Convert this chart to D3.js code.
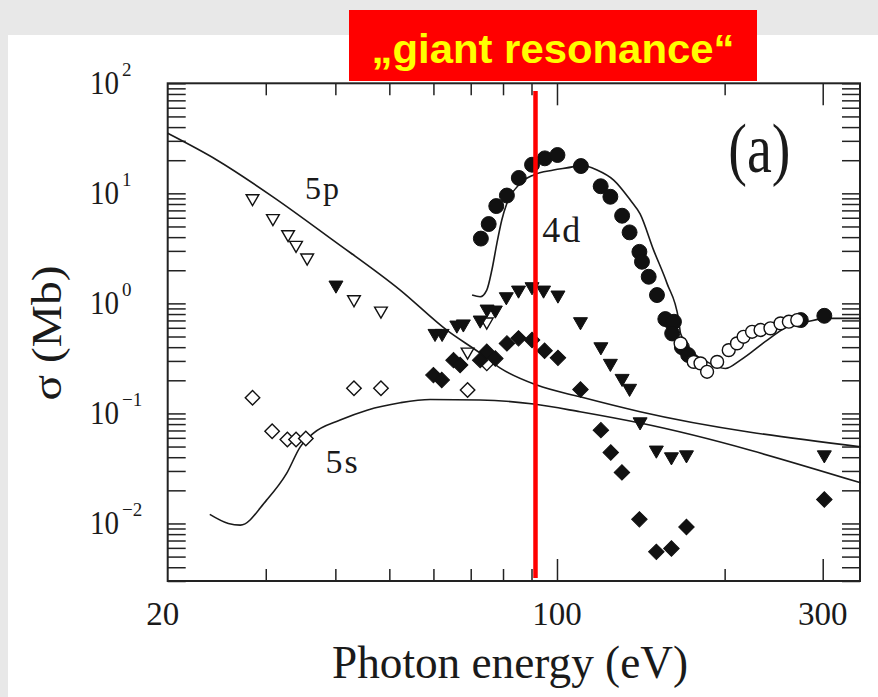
<!DOCTYPE html>
<html>
<head>
<meta charset="utf-8">
<script src="https://cdn.jsdelivr.net/npm/d3@7"></script>
<style>
    body { margin: 0; background: #e8e8e8; }
    text { font-family: "Liberation Serif", "DejaVu Serif", serif; fill: #1a1a1a; }
</style>
</head>
<body>
<div id="chart"></div>
<script>
// theory curves (photon energy in eV, cross section in Mb)
var curve5pE = [20, 24.5, 30.9, 39.6, 52.3, 63.4, 72.8, 79.1, 92, 110, 141, 351];
var curve5pS = [35.1, 20.1, 9.3, 3.76, 1.32, 0.571, 0.353, 0.258, 0.181, 0.1415, 0.1035, 0.0497];

var curve5sE = [23.8, 25.7, 27.0, 30.1, 32.7, 34.6, 36.5, 40.8, 45.6, 52.3, 59.2, 72.8, 90.8, 110, 141, 351];
var curve5sS = [0.0121, 0.0100, 0.00966, 0.0163, 0.0285, 0.0497, 0.0658, 0.0870, 0.107, 0.125, 0.134, 0.1326, 0.1216, 0.1035, 0.0817, 0.0234];

var curve4dE = [70.4, 72.8, 74.8, 76.4, 78.0, 79.6, 81.3, 85.9, 90.8, 98.6, 107.1, 110, 118, 126.4, 135.4, 141, 149.1, 157.6, 165.4, 166.7, 176, 186, 200.6, 213.5, 238.6, 259, 281.3, 305.7, 351];
var curve4dS = [1.19, 1.148, 1.32, 2.01, 3.51, 5.72, 8.11, 12.3, 14.7, 16.3, 17.5, 18.1, 16.3, 13.2, 8.7, 6.5, 3.05, 1.52, 0.705, 0.533, 0.351, 0.294, 0.256, 0.305, 0.464, 0.613, 0.681, 0.731, 0.731];

// measured points
var openTriE = [28.4, 30.9, 32.9, 34.0, 35.6, 43.2, 48.3, 69.1, 74.8];
var openTriS = [9.0, 5.93, 4.24, 3.39, 2.6, 1.087, 0.857, 0.363, 0.681];

var filledTriE = [40.1, 60.4, 62.2, 66.1, 67.9, 72.8, 74.9, 77.5, 81.1, 85.3, 90.2, 94.6, 100.4, 110.2, 119.9, 124.7, 130.9, 135, 141, 150.8, 160.5, 170.8, 302];
var filledTriS = [1.466, 0.533, 0.533, 0.635, 0.65, 0.705, 0.887, 0.869, 1.148, 1.32, 1.416, 1.32, 1.19, 0.681, 0.403, 0.285, 0.208, 0.169, 0.0838, 0.0464, 0.0403, 0.042, 0.042];

var filledDiaE = [60.0, 62.1, 65.2, 67.0, 72.8, 74.8, 77.5, 81.3, 85.3, 90.2, 95.0, 100.4, 110.2, 119.9, 124.9, 130.8, 140.6, 150.8, 160.5, 170.8, 302];
var filledDiaS = [0.223, 0.201, 0.305, 0.275, 0.305, 0.363, 0.316, 0.433, 0.481, 0.464, 0.371, 0.320, 0.165, 0.0705, 0.0442, 0.0291, 0.0109, 0.00552, 0.00593, 0.0093, 0.0165];

var openDiaE = [28.4, 30.8, 32.8, 34.0, 35.4, 43.2, 48.3, 69.1, 74.8];
var openDiaS = [0.1387, 0.069, 0.058, 0.058, 0.0593, 0.169, 0.169, 0.163, 0.285];

var filledCircE = [73.0, 75.4, 77.8, 81.3, 85.4, 90.2, 95.1, 100.2, 110.4, 119.8, 124.7, 130.9, 135, 140.6, 142.1, 146.1, 151.2, 156.5, 161, 162.2, 161, 167.6, 172, 274, 302];
var filledCircS = [3.88, 5.26, 7.66, 9.55, 13.8, 18.2, 20.8, 22.3, 17.7, 11.6, 9.31, 6.26, 4.42, 2.94, 2.39, 1.746, 1.19, 0.72, 0.658, 0.681, 0.533, 0.40, 0.34, 0.705, 0.771];

var openCircE = [166.7, 176, 181, 186, 193.9, 203.4, 210.5, 216.3, 224, 232, 241.7, 252, 260.8, 270];
var openCircS = [0.433, 0.294, 0.285, 0.239, 0.294, 0.376, 0.433, 0.497, 0.552, 0.573, 0.593, 0.658, 0.681, 0.705];

// axis ticks and labels
var xMajorTicks = [100, 300];
var xTickLabels = [20, 100, 300];
var yExponents = [-2, -1, 0, 1, 2];
var giantResonanceE = 91.5;

var width = 878, height = 697;
var plot = {left: 167.7, right: 860, top: 83.3, bottom: 581};

var xScale = d3.scaleLog()
    .domain( [20, 350] )
    .range( [plot.left, plot.right] );

var yScale = d3.scaleLog()
    .domain( [0.003, 100] )
    .range( [plot.bottom, plot.top] );

var svg = d3.select( "#chart" )
    .append( "svg" )
    .attr( "width", width )
    .attr( "height", height );

// slide background
svg.append( "rect" )
    .attr( "width", width )
    .attr( "height", height )
    .attr( "fill", "#e8e8e8" );

svg.append( "rect" )
    .attr( "x", 8 )
    .attr( "y", 35 )
    .attr( "width", width - 8 )
    .attr( "height", height - 35 )
    .attr( "fill", "#ffffff" );

// ticks on all four sides, pointing inward
var xTicks = xScale.ticks().filter( function (d) { return d > 20; } );
var xMinor = xTicks.filter( function (d) { return xMajorTicks.indexOf( d ) < 0; } );
var yTicks = yScale.ticks();

function styleAxis(g) {
    g.select( ".domain" ).remove();
    g.selectAll( "line" ).attr( "stroke", "#222" ).attr( "stroke-width", 1.5 );
}

svg.append( "g" )
    .attr( "transform", "translate(0," + plot.bottom + ")" )
    .call( d3.axisBottom( xScale ).tickValues( xMinor ).tickSize( -12 ).tickFormat( "" ) )
    .call( styleAxis );
svg.append( "g" )
    .attr( "transform", "translate(0," + plot.bottom + ")" )
    .call( d3.axisBottom( xScale ).tickValues( xMajorTicks ).tickSize( -22 ).tickFormat( "" ) )
    .call( styleAxis );
svg.append( "g" )
    .attr( "transform", "translate(0," + plot.top + ")" )
    .call( d3.axisTop( xScale ).tickValues( xMinor ).tickSize( -12 ).tickFormat( "" ) )
    .call( styleAxis );
svg.append( "g" )
    .attr( "transform", "translate(0," + plot.top + ")" )
    .call( d3.axisTop( xScale ).tickValues( xMajorTicks ).tickSize( -22 ).tickFormat( "" ) )
    .call( styleAxis );
svg.append( "g" )
    .attr( "transform", "translate(" + plot.left + ",0)" )
    .call( d3.axisLeft( yScale ).tickValues( yTicks ).tickSize( -18 ).tickFormat( "" ) )
    .call( styleAxis );
svg.append( "g" )
    .attr( "transform", "translate(" + plot.right + ",0)" )
    .call( d3.axisRight( yScale ).tickValues( yTicks ).tickSize( -18 ).tickFormat( "" ) )
    .call( styleAxis );

// frame
svg.append( "rect" )
    .attr( "x", plot.left )
    .attr( "y", plot.top )
    .attr( "width", plot.right - plot.left )
    .attr( "height", plot.bottom - plot.top )
    .attr( "fill", "none" )
    .attr( "stroke", "#222" )
    .attr( "stroke-width", 2 );

// x tick labels
svg.selectAll( "text.xlabel" )
    .data( xTickLabels )
    .enter()
    .append( "text" )
    .attr( "class", "xlabel" )
    .attr( "x", function (d) { return xScale( d ) - (d === 20 ? 5 : 0); } )
    .attr( "y", plot.bottom + 44 )
    .attr( "text-anchor", "middle" )
    .style( "font-size", "33px" )
    .text( function (d) { return d; } );

// y tick labels 10^n
var yLab = svg.selectAll( "g.ylabel" )
    .data( yExponents )
    .enter()
    .append( "g" )
    .attr( "class", "ylabel" )
    .attr( "transform", function (d) { return "translate(0," + yScale( Math.pow( 10, d ) ) + ")"; } );

yLab.append( "text" )
    .attr( "x", 119 )
    .attr( "y", 11 )
    .attr( "text-anchor", "end" )
    .attr( "textLength", 29 )
    .attr( "lengthAdjust", "spacingAndGlyphs" )
    .style( "font-size", "33px" )
    .text( "10" );

yLab.append( "text" )
    .attr( "x", 122 )
    .attr( "y", -7 )
    .style( "font-size", "19px" )
    .text( function (d) { return d < 0 ? "\u2212" + (-d) : d; } );

// axis titles
svg.append( "text" )
    .attr( "x", 510 )
    .attr( "y", 678 )
    .attr( "text-anchor", "middle" )
    .attr( "textLength", 356 )
    .attr( "lengthAdjust", "spacingAndGlyphs" )
    .style( "font-size", "46px" )
    .text( "Photon energy (eV)" );

svg.append( "text" )
    .attr( "transform", "translate(61,333) rotate(-90)" )
    .attr( "text-anchor", "middle" )
    .attr( "textLength", 135 )
    .attr( "lengthAdjust", "spacingAndGlyphs" )
    .style( "font-size", "42px" )
    .text( "\u03c3 (Mb)" );

// theory curves
var line = d3.line()
    .x( function (d) { return xScale( d[0] ); } )
    .y( function (d) { return yScale( d[1] ); } )
    .curve( d3.curveMonotoneX );

[[curve5pE, curve5pS], [curve5sE, curve5sS], [curve4dE, curve4dS]].forEach( function (c) {
    svg.append( "path" )
        .datum( d3.zip( c[0], c[1] ) )
        .attr( "d", line )
        .attr( "fill", "none" )
        .attr( "stroke", "#1a1a1a" )
        .attr( "stroke-width", 1.6 );
} );

// curve labels
function curveLabel(txt, e, s, size) {
    svg.append( "text" )
        .attr( "x", xScale( e ) )
        .attr( "y", yScale( s ) )
        .style( "font-size", size + "px" )
        .style( "letter-spacing", "2px" )
        .text( txt );
}
curveLabel( "5p", 35.3, 8.9, 32 );
curveLabel( "5s", 38.4, 0.029, 34 );
curveLabel( "4d", 94.1, 3.6, 36 );

svg.append( "text" )
    .attr( "transform", "translate(" + xScale( 203 ) + "," + yScale( 15.6 ) + ") scale(1,1.25)" )
    .style( "font-size", "56px" )
    .text( "(a)" );

// measured points
function drawMarkers(eList, sList, type, size, angle, filled) {
    svg.append( "g" )
        .selectAll( "path" )
        .data( d3.zip( eList, sList ) )
        .enter()
        .append( "path" )
        .attr( "d", d3.symbol().type( type ).size( size ) )
        .attr( "transform", function (d) {
            return "translate(" + xScale( d[0] ) + "," + yScale( d[1] ) + ") rotate(" + angle + ")";
        } )
        .attr( "fill", filled ? "#111" : "#fff" )
        .attr( "stroke", "#111" )
        .attr( "stroke-width", filled ? 1 : 1.4 );
}

drawMarkers( openDiaE, openDiaS, d3.symbolSquare, 105, 45, false );
drawMarkers( openTriE, openTriS, d3.symbolTriangle, 70, 180, false );
drawMarkers( filledTriE, filledTriS, d3.symbolTriangle, 85, 180, true );
drawMarkers( filledDiaE, filledDiaS, d3.symbolSquare, 120, 45, true );
drawMarkers( filledCircE, filledCircS, d3.symbolCircle, 175, 0, true );
drawMarkers( openCircE, openCircS, d3.symbolCircle, 130, 0, false );

// giant resonance marker
svg.append( "line" )
    .attr( "x1", xScale( giantResonanceE ) )
    .attr( "x2", xScale( giantResonanceE ) )
    .attr( "y1", yScale( 85 ) )
    .attr( "y2", yScale( 0.0032 ) )
    .attr( "stroke", "#ff0000" )
    .attr( "stroke-width", 4.5 );

svg.append( "rect" )
    .attr( "x", 349 )
    .attr( "y", 10 )
    .attr( "width", 408 )
    .attr( "height", 71 )
    .attr( "fill", "#ff0000" );

svg.append( "text" )
    .attr( "x", 553 )
    .attr( "y", 63 )
    .attr( "text-anchor", "middle" )
    .attr( "textLength", 363 )
    .attr( "lengthAdjust", "spacingAndGlyphs" )
    .style( "font-family", "'Liberation Sans', Arial, sans-serif" )
    .style( "font-weight", "bold" )
    .style( "font-size", "40px" )
    .style( "fill", "#ffff00" )
    .text( "\u201egiant resonance\u201c" );
</script>
</body>
</html>
